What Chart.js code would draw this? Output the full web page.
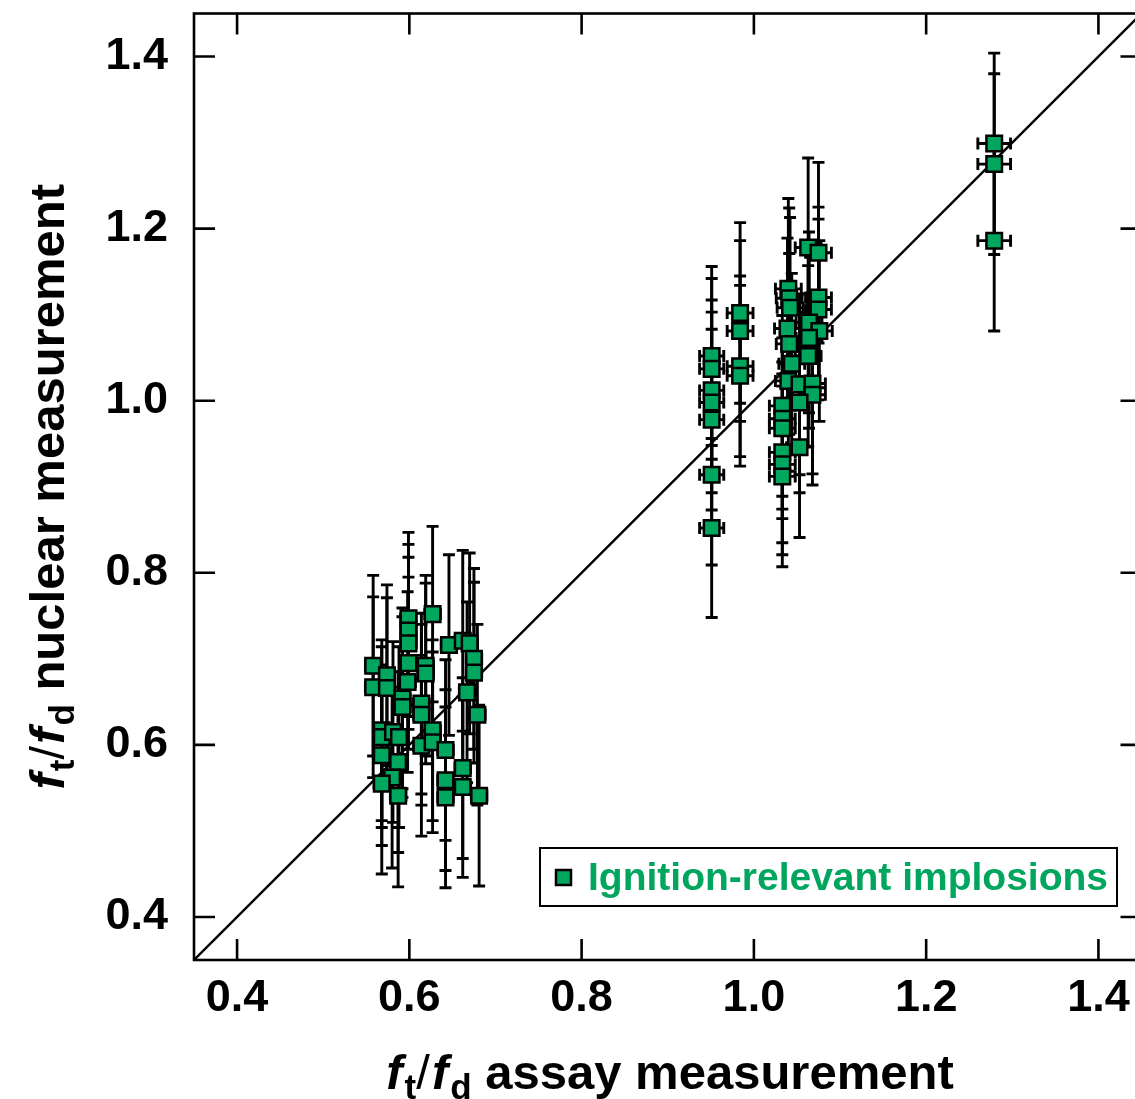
<!DOCTYPE html>
<html><head><meta charset="utf-8">
<script src="https://cdn.jsdelivr.net/npm/chart.js@4/dist/chart.umd.min.js"></script>
<style>html,body{margin:0;padding:0;background:#fff;overflow:hidden;}#wrap{position:relative;width:1155px;height:1099px;}</style>
</head><body><div id="wrap"><canvas id="c" width="1155" height="1099"></canvas></div>
<script>
const seriesLabel = 'Ignition-relevant implosions';
const xTicks = [0.4, 0.6, 0.8, 1.0, 1.2, 1.4];
const yTicks = [0.4, 0.6, 0.8, 1.0, 1.2, 1.4];
const unityLine = [0.35, 1.45];

// f_t/f_d assay measurement
const assayX = [
  0.599,0.599,0.599,0.627,0.646,0.662,0.670,0.675,0.675,0.667,0.679,0.558,0.558,0.574,0.574,0.599,0.619,0.619,0.598,0.592,0.592,0.614,0.614,0.568,0.568,0.581,0.588,0.568,0.587,0.614,0.627,0.627,0.580,0.568,0.587,0.642,0.642,0.642,0.662,0.662,0.681,
  0.951,0.951,0.951,0.951,0.951,0.951,0.951,
  0.984,0.984,0.984,0.984,
  1.063,1.075,1.040,1.041,1.042,1.075,1.075,1.039,1.064,1.076,1.064,1.041,1.063,1.044,1.040,1.053,1.068,1.068,1.053,1.033,1.033,1.033,1.053,1.033,1.033,1.033,
  1.279,1.279,1.279
];
// f_t/f_d nuclear measurement
const nuclearY = [
  0.747,0.733,0.718,0.752,0.716,0.721,0.718,0.700,0.684,0.661,0.635,0.692,0.667,0.681,0.666,0.695,0.692,0.683,0.673,0.654,0.644,0.648,0.635,0.617,0.609,0.615,0.609,0.588,0.580,0.599,0.617,0.603,0.562,0.555,0.541,0.594,0.559,0.539,0.573,0.551,0.541,
  1.052,1.037,1.012,0.998,0.978,0.914,0.852,
  1.102,1.081,1.040,1.029,
  1.178,1.172,1.130,1.119,1.108,1.120,1.106,1.084,1.091,1.081,1.073,1.066,1.052,1.043,1.023,1.019,1.020,1.007,0.998,0.994,0.979,0.968,0.946,0.940,0.926,0.912,
  1.299,1.275,1.186
];
const assayErr = [
  0.009,0.009,0.009,0.009,0.009,0.009,0.009,0.009,0.009,0.009,0.009,0.009,0.009,0.009,0.009,0.009,0.009,0.009,0.009,0.009,0.009,0.009,0.009,0.009,0.009,0.009,0.009,0.009,0.009,0.009,0.009,0.009,0.009,0.009,0.009,0.009,0.009,0.009,0.009,0.009,0.009,
  0.014,0.014,0.014,0.014,0.014,0.014,0.014,
  0.015,0.015,0.015,0.015,
  0.015,0.015,0.015,0.015,0.015,0.015,0.015,0.015,0.015,0.015,0.015,0.015,0.015,0.015,0.015,0.015,0.015,0.015,0.015,0.015,0.015,0.015,0.015,0.015,0.015,0.015,
  0.019,0.019,0.019
];
const nuclearErr = [
  0.100,0.100,0.100,0.102,0.105,0.105,0.105,0.105,0.105,0.105,0.105,0.105,0.105,0.105,0.105,0.100,0.105,0.105,0.105,0.105,0.105,0.105,0.105,0.105,0.105,0.105,0.105,0.105,0.105,0.105,0.105,0.105,0.105,0.105,0.106,0.105,0.105,0.105,0.105,0.105,0.105,
  0.104,0.105,0.105,0.105,0.105,0.105,0.104,
  0.105,0.105,0.105,0.105,
  0.104,0.105,0.105,0.105,0.105,0.105,0.105,0.105,0.105,0.105,0.105,0.105,0.105,0.105,0.105,0.105,0.105,0.105,0.105,0.105,0.105,0.105,0.105,0.105,0.105,0.105,
  0.105,0.105,0.105
];

const GREEN = '#00A65D';
const FONT = '"Liberation Sans", Arial, Helvetica, sans-serif';

const points = assayX.map((x, i) => ({x: x, y: nuclearY[i]}));

const errorBars = {
  id: 'errorBars',
  beforeDatasetsDraw(chart) {
    const {ctx, scales: {x, y}} = chart;
    ctx.save();
    ctx.strokeStyle = '#000';
    ctx.lineWidth = 2.9;
    const cap = 6;
    for (let i = 0; i < assayX.length; i++) {
      const px = x.getPixelForValue(assayX[i]);
      const py = y.getPixelForValue(nuclearY[i]);
      const yT = y.getPixelForValue(nuclearY[i] + nuclearErr[i]);
      const yB = y.getPixelForValue(nuclearY[i] - nuclearErr[i]);
      const xL = x.getPixelForValue(assayX[i] - assayErr[i]);
      const xR = x.getPixelForValue(assayX[i] + assayErr[i]);
      ctx.beginPath();
      ctx.moveTo(px, yT); ctx.lineTo(px, yB);
      ctx.moveTo(px - cap, yT); ctx.lineTo(px + cap, yT);
      ctx.moveTo(px - cap, yB); ctx.lineTo(px + cap, yB);
      ctx.moveTo(xL, py); ctx.lineTo(xR, py);
      ctx.moveTo(xL, py - cap); ctx.lineTo(xL, py + cap);
      ctx.moveTo(xR, py - cap); ctx.lineTo(xR, py + cap);
      ctx.stroke();
    }
    ctx.restore();
  }
};

function drawComposite(ctx, parts, cx, baseY) {
  let total = 0;
  parts.forEach(p => { ctx.font = p.font; p.w = ctx.measureText(p.t).width; total += p.w + (p.gap || 0); });
  let x = cx - total / 2;
  parts.forEach(p => {
    ctx.font = p.font;
    ctx.fillText(p.t, x, baseY + (p.dy || 0));
    x += p.w + (p.gap || 0);
  });
}

const frameAndText = {
  id: 'frameAndText',
  afterDraw(chart) {
    const {ctx, chartArea: a, scales: {x, y}} = chart;
    ctx.save();
    ctx.strokeStyle = '#000';
    ctx.lineWidth = 2.6;
    ctx.strokeRect(a.left, a.top, a.right - a.left, a.bottom - a.top);
    const tl = 21;
    ctx.beginPath();
    xTicks.forEach(v => {
      const px = x.getPixelForValue(v);
      ctx.moveTo(px, a.bottom); ctx.lineTo(px, a.bottom - tl);
      ctx.moveTo(px, a.top); ctx.lineTo(px, a.top + tl);
    });
    yTicks.forEach(v => {
      const py = y.getPixelForValue(v);
      ctx.moveTo(a.left, py); ctx.lineTo(a.left + tl, py);
      ctx.moveTo(a.right, py); ctx.lineTo(a.right - tl, py);
    });
    ctx.stroke();

    // legend
    const lx = 540, ly = 848, lw = 577, lh = 58;
    ctx.fillStyle = '#fff';
    ctx.fillRect(lx, ly, lw, lh);
    ctx.lineWidth = 2;
    ctx.strokeRect(lx, ly, lw, lh);
    ctx.fillStyle = GREEN;
    ctx.fillRect(556, 870, 15, 15);
    ctx.lineWidth = 2.5;
    ctx.strokeRect(556, 870, 15, 15);
    ctx.fillStyle = GREEN;
    ctx.font = 'bold 39px ' + FONT;
    ctx.textBaseline = 'alphabetic';
    ctx.textAlign = 'left';
    ctx.fillText(seriesLabel, 588, 890);

    // axis titles
    ctx.fillStyle = '#000';
    const big = 'bold 49px ' + FONT, ital = 'italic bold 49px ' + FONT, sub = 'bold 35px ' + FONT, reg = '49px ' + FONT;
    const mk = (rest) => [
      {t: 'f', font: ital, gap: 2},
      {t: 't', font: sub, dy: 10},
      {t: '/', font: reg, gap: 2},
      {t: 'f', font: ital, gap: 2},
      {t: 'd', font: sub, dy: 10},
      {t: rest, font: big}
    ];
    drawComposite(ctx, mk(' assay measurement'), 670, 1089);
    ctx.save();
    ctx.translate(64, (a.top + a.bottom) / 2);
    ctx.rotate(-Math.PI / 2);
    drawComposite(ctx, mk(' nuclear measurement'), 0, 0);
    ctx.restore();
    ctx.restore();
  }
};

const tickFont = {family: FONT, size: 45, weight: 'bold'};

new Chart(document.getElementById('c'), {
  type: 'scatter',
  data: {
    datasets: [
      {
        label: seriesLabel,
        data: points,
        pointStyle: 'rect',
        pointRadius: 11,
        backgroundColor: GREEN,
        borderColor: '#000',
        borderWidth: 2.5,
        order: 0
      },
      {
        type: 'line',
        label: 'unity',
        data: unityLine.map(v => ({x: v, y: v})),
        borderColor: '#000',
        borderWidth: 2.4,
        pointRadius: 0,
        fill: false,
        order: 1
      }
    ]
  },
  options: {
    responsive: false,
    animation: false,
    layout: {padding: {left: 0, top: 12, right: 0, bottom: 0}},
    plugins: {legend: {display: false}, tooltip: {enabled: false}},
    scales: {
      x: {
        type: 'linear', min: 0.35, max: 1.45,
        afterBuildTicks: s => { s.ticks = xTicks.map(v => ({value: v})); },
        afterFit: s => { s.height = 139; s.paddingLeft = 0; s.paddingRight = 0; },
        grid: {display: false}, border: {display: false},
        ticks: {font: tickFont, color: '#000', padding: 4, maxRotation: 0, autoSkip: false, callback: v => Number(v).toFixed(1)}
      },
      y: {
        type: 'linear', min: 0.35, max: 1.45,
        afterBuildTicks: s => { s.ticks = yTicks.map(v => ({value: v})); },
        afterFit: s => { s.width = 194; s.paddingTop = 0; s.paddingBottom = 0; },
        grid: {display: false}, border: {display: false},
        ticks: {font: tickFont, color: '#000', padding: 18, autoSkip: false, callback: v => Number(v).toFixed(1)}
      }
    }
  },
  plugins: [errorBars, frameAndText]
});
</script></body></html>
